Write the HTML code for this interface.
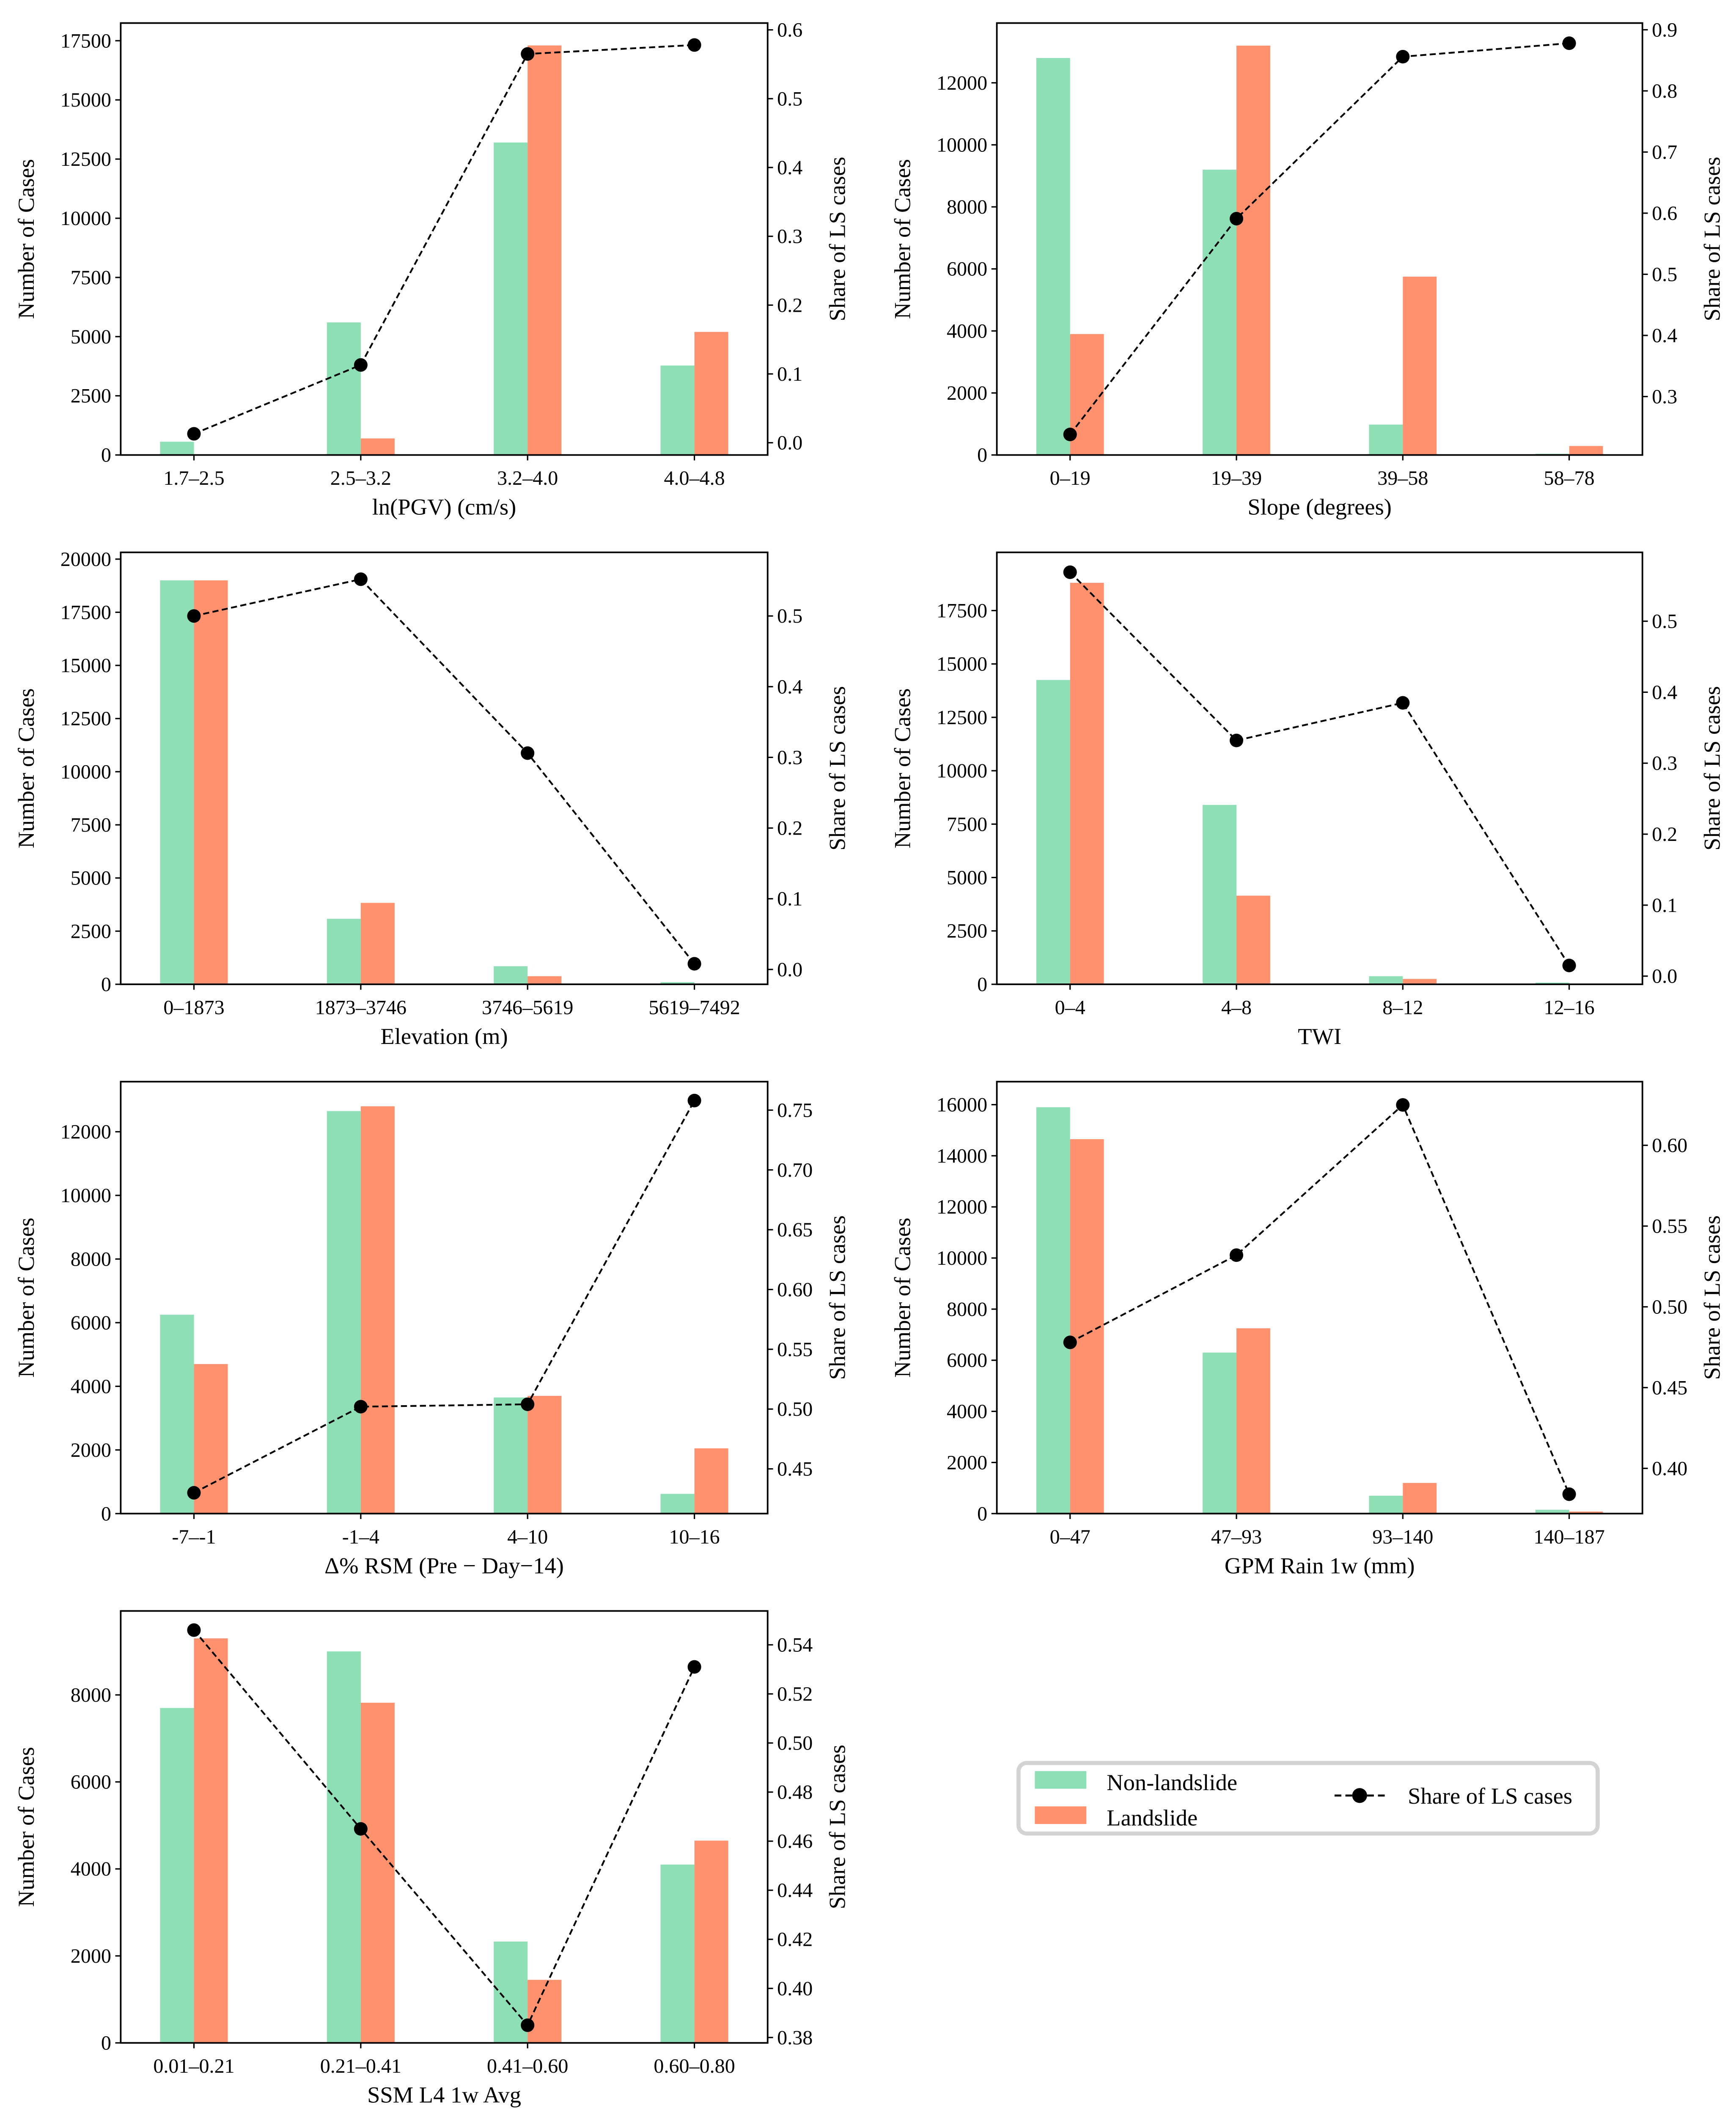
<!DOCTYPE html>
<html><head><meta charset="utf-8"><style>
html,body{margin:0;padding:0;background:#fff;width:4104px;height:5011px;overflow:hidden}
svg{display:block;position:absolute;left:0;top:0}
text{font-family:"Liberation Serif",serif;fill:#000}
</style></head><body>
<svg id="fig" xmlns="http://www.w3.org/2000/svg" width="4104" height="5011" viewBox="0 0 1280 1563" preserveAspectRatio="none">
<g>
<rect x="751" y="1300" width="427" height="52" rx="6" fill="#fff" stroke="#d3d3d3" stroke-width="3"/>
<rect x="763" y="1306" width="38" height="13" fill="#8fdfb6"/>
<text x="816" y="1320" font-size="17">Non-landslide</text>
<rect x="763" y="1332" width="38" height="13" fill="#ff916f"/>
<text x="816" y="1346" font-size="17">Landslide</text>
<line x1="984" y1="1324" x2="1021" y2="1324" stroke="#000" stroke-width="1.5" stroke-dasharray="5,3"/>
<circle cx="1002.5" cy="1324" r="5.5" fill="#000"/>
<text x="1038" y="1330" font-size="17">Share of LS cases</text>
</g>
</svg>
<script>
const cats1=["1.7–2.5","2.5–3.2","3.2–4.0","4.0–4.8"];
const non1=[560,5600,13200,3780];
const ls1=[0,700,17300,5200];
const share1=[0.013,0.113,0.565,0.578];
const cats2=["0–19","19–39","39–58","58–78"];
const non2=[12800,9200,980,40];
const ls2=[3900,13200,5750,290];
const share2=[0.238,0.591,0.856,0.878];
const cats3=["0–1873","1873–3746","3746–5619","5619–7492"];
const non3=[19000,3080,850,100];
const ls3=[19000,3830,380,30];
const share3=[0.5,0.552,0.306,0.008];
const cats4=["0–4","4–8","8–12","12–16"];
const non4=[14250,8400,380,80];
const ls4=[18800,4150,250,20];
const share4=[0.569,0.332,0.385,0.015];
const cats5=["-7–-1","-1–4","4–10","10–16"];
const non5=[6250,12650,3650,620];
const ls5=[4700,12800,3700,2050];
const share5=[0.43,0.502,0.504,0.758];
const cats6=["0–47","47–93","93–140","140–187"];
const non6=[15900,6300,700,150];
const ls6=[14650,7250,1200,80];
const share6=[0.478,0.532,0.625,0.384];
const cats7=["0.01–0.21","0.21–0.41","0.41–0.60","0.60–0.80"];
const non7=[7700,9000,2330,4100];
const ls7=[9300,7820,1450,4650];
const share7=[0.546,0.465,0.385,0.531];
const xlabels=["ln(PGV) (cm/s)","Slope (degrees)","Elevation (m)","TWI","Δ% RSM (Pre − Day−14)","GPM Rain 1w (mm)","SSM L4 1w Avg"];
const leftTicks1=[0,2500,5000,7500,10000,12500,15000,17500];
const leftTicks2=[0,2000,4000,6000,8000,10000,12000];
const leftTicks3=[0,2500,5000,7500,10000,12500,15000,17500,20000];
const leftTicks4=[0,2500,5000,7500,10000,12500,15000,17500];
const leftTicks5=[0,2000,4000,6000,8000,10000,12000];
const leftTicks6=[0,2000,4000,6000,8000,10000,12000,14000,16000];
const leftTicks7=[0,2000,4000,6000,8000];
const rightTicks1=["0.0","0.1","0.2","0.3","0.4","0.5","0.6"];
const rightTicks2=["0.3","0.4","0.5","0.6","0.7","0.8","0.9"];
const rightTicks3=["0.0","0.1","0.2","0.3","0.4","0.5"];
const rightTicks4=["0.0","0.1","0.2","0.3","0.4","0.5"];
const rightTicks5=["0.45","0.50","0.55","0.60","0.65","0.70","0.75"];
const rightTicks6=["0.40","0.45","0.50","0.55","0.60"];
const rightTicks7=["0.38","0.40","0.42","0.44","0.46","0.48","0.50","0.52","0.54"];
const leftMax=[18246,13927,20318,20226,13574,16900,9930];
const rightLo=[-0.0178,0.2044,-0.021,-0.0115,0.4126,0.372,0.3778];
const rightHi=[0.6099,0.911,0.59,0.597,0.7738,0.6394,0.5538];

const NS="http://www.w3.org/2000/svg";
const svg=document.getElementById('fig');
function mk(tag,attrs,parent){const e=document.createElementNS(NS,tag);for(const k in attrs)e.setAttribute(k,attrs[k]);(parent||svg).appendChild(e);return e;}
const panels=[
 [cats1,non1,ls1,share1,leftTicks1,rightTicks1],
 [cats2,non2,ls2,share2,leftTicks2,rightTicks2],
 [cats3,non3,ls3,share3,leftTicks3,rightTicks3],
 [cats4,non4,ls4,share4,leftTicks4,rightTicks4],
 [cats5,non5,ls5,share5,leftTicks5,rightTicks5],
 [cats6,non6,ls6,share6,leftTicks6,rightTicks6],
 [cats7,non7,ls7,share7,leftTicks7,rightTicks7]];
panels.forEach((p,i)=>{
 const [cats,non,ls,share,lt,rt]=p;
 const col=i%2,row=Math.floor(i/2);
 const L=col?735:89, R=col?1211:566, T=17+390.3*row, B=T+318.5;
 const g=mk('g',{});
 
 
 const step=(R-L-108)/3, w=(R-L)/19.1;
 const xc=k=>L+54+k*step;
 const yl=v=>B-(v/leftMax[i])*(B-T);
 const yr=v=>B-((v-rightLo[i])/(rightHi[i]-rightLo[i]))*(B-T);
 cats.forEach((c,k)=>{
  const b1=mk('rect',{x:xc(k)-w,y:yl(non[k]),width:w,height:B-yl(non[k]),fill:'#8fdfb6'},g);
  
  
  const b2=mk('rect',{x:xc(k),y:yl(ls[k]),width:w,height:B-yl(ls[k]),fill:'#ff916f'},g);
  
  
  mk('line',{x1:xc(k),y1:B,x2:xc(k),y2:B+4,stroke:'#000','stroke-width':1},g);
  const t=mk('text',{x:xc(k),y:B+22,'font-size':15,'text-anchor':'middle'},g);t.textContent=c;
  
  
 });
 lt.forEach(v=>{
  const y=yl(v);
  mk('line',{x1:L-4,y1:y,x2:L,y2:y,stroke:'#000','stroke-width':1},g);
  const t=mk('text',{x:L-7,y:y+5,'font-size':15,'text-anchor':'end'},g);t.textContent=v;
  
  
 });
 rt.forEach(s=>{
  const y=yr(parseFloat(s));
  mk('line',{x1:R,y1:y,x2:R+4,y2:y,stroke:'#000','stroke-width':1},g);
  const t=mk('text',{x:R+7,y:y+5,'font-size':15},g);t.textContent=s;
  
  
 });
 const pts=share.map((v,k)=>xc(k)+','+yr(v)).join(' ');
 const ln=mk('polyline',{points:pts,fill:'none',stroke:'#000','stroke-width':1.3,'stroke-dasharray':'4.5,2.5'},g);
 
 
 share.forEach((v,k)=>{
  const c=mk('circle',{cx:xc(k),cy:yr(v),r:5,fill:'#000'},g);
  
  
 });
 mk('rect',{x:L,y:T,width:R-L,height:B-T,fill:'none',stroke:'#000','stroke-width':1.2},g);
 const xl=mk('text',{x:(L+R)/2,y:B+44,'font-size':17,'text-anchor':'middle'},g);xl.textContent=xlabels[i];
 
 
 const ylx=L-64, ylyc=(T+B)/2;
 const y1=mk('text',{x:ylx,y:ylyc,'font-size':17,'text-anchor':'middle',transform:`rotate(-90 ${ylx} ${ylyc})`},g);y1.textContent='Number of Cases';
 
 
 const yrx=R+57;
 const y2=mk('text',{x:yrx,y:ylyc,'font-size':17,'text-anchor':'middle',transform:`rotate(-90 ${yrx} ${ylyc})`},g);y2.textContent='Share of LS cases';
 
 
});
</script>
</body></html>
